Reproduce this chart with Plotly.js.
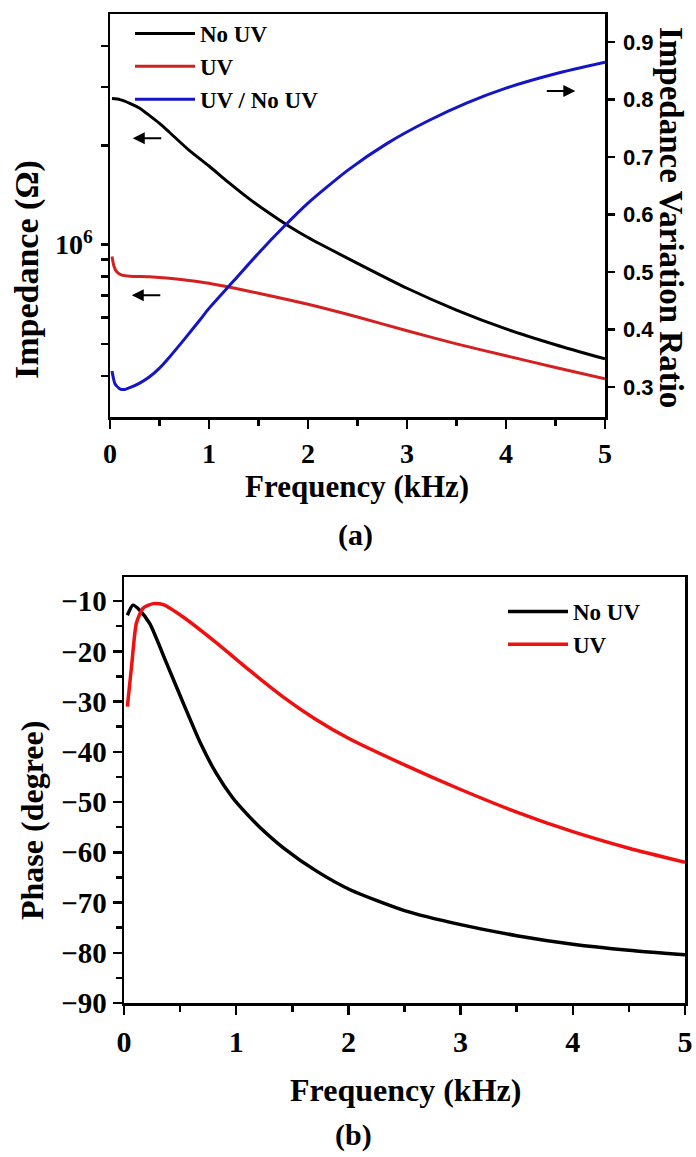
<!DOCTYPE html>
<html>
<head>
<meta charset="utf-8">
<script src="https://cdn.plot.ly/plotly-3.0.1.min.js"></script>
<style>html,body{margin:0;padding:0;background:#fff;}#chart{width:696px;height:1157px;}</style>
</head>
<body>
<div id="chart"></div>
<script>
// ---- Panel (a): impedance magnitude vs frequency ----
const freqNoUV_a = [0.02, 0.1, 0.2, 0.3, 0.4, 0.5, 0.6, 0.8, 1.0, 1.2, 1.4, 1.6, 1.8, 2.0, 2.5, 3.0, 3.5, 4.0, 4.5, 5.0];
const zNoUV = [2.77e6, 2.75e6, 2.68e6, 2.59e6, 2.46e6, 2.33e6, 2.19e6, 1.93e6, 1.73e6, 1.54e6, 1.38e6, 1.25e6, 1.14e6, 1.05e6, 8.77e5, 7.37e5, 6.33e5, 5.55e5, 4.97e5, 4.5e5];

const freqUV_a = [0.02, 0.04, 0.07, 0.12, 0.2, 0.4, 0.6, 0.8, 1.0, 1.25, 1.5, 2.0, 2.5, 3.0, 3.5, 4.0, 4.5, 5.0];
const zUV = [9.2e5, 8.6e5, 8.25e5, 8.08e5, 8.02e5, 7.98e5, 7.9e5, 7.78e5, 7.63e5, 7.38e5, 7.12e5, 6.59e5, 6.03e5, 5.48e5, 5.0e5, 4.6e5, 4.24e5, 3.92e5];

const freqRatio = [0.02, 0.05, 0.1, 0.15, 0.2, 0.3, 0.4, 0.5, 0.6, 0.75, 0.9, 1.0, 1.25, 1.5, 1.75, 2.0, 2.4, 2.8, 3.2, 3.6, 4.0, 4.5, 5.0];
const ratio = [0.328, 0.306, 0.297, 0.296, 0.299, 0.307, 0.318, 0.333, 0.352, 0.383, 0.415, 0.437, 0.485, 0.533, 0.578, 0.620, 0.677, 0.724, 0.762, 0.794, 0.820, 0.845, 0.865];

const zTickVals = [4e5, 5e5, 6e5, 7e5, 8e5, 9e5, 1e6, 2e6, 3e6, 4e6];
const zTickText = ['', '', '', '', '', '', '10<sup>6</sup>', '', '', ''];

// ---- Panel (b): phase vs frequency ----
const freqNoUV_b = [0.03, 0.08, 0.14, 0.23, 0.38, 0.53, 0.68, 0.82, 0.97, 1.1, 1.21, 1.42, 1.72, 2.02, 2.5, 3.0, 3.5, 4.0, 4.5, 5.0];
const phaseNoUV = [-12.8, -10.8, -11.8, -14.5, -22.4, -30.4, -38.2, -44.2, -49.2, -52.5, -55, -59.1, -63.8, -67.5, -71.6, -74.4, -76.6, -78.3, -79.5, -80.4];

const freqUV_b = [0.03, 0.07, 0.11, 0.17, 0.26, 0.35, 0.53, 0.83, 1.12, 1.42, 1.7, 2.0, 2.5, 3.0, 3.5, 4.0, 4.5, 5.0];
const phaseUV = [-31, -22.4, -14.4, -11.4, -10.5, -10.7, -13.2, -18.4, -23.8, -29.1, -33.4, -37.3, -42.6, -47.5, -52, -55.9, -59.2, -62];

const serifB = {family: 'Liberation Serif, Times New Roman, serif', weight: 'bold', color: '#000'};
const sansB = {family: 'Liberation Sans, Arial, sans-serif', weight: 'bold', color: '#000'};
function f(base, size) { return Object.assign({}, base, {size: size}); }

const traces = [
  {x: freqNoUV_a, y: zNoUV, name: 'No UV', type: 'scatter', mode: 'lines',
   line: {color: '#000000', width: 3, shape: 'spline', smoothing: 0.6}, xaxis: 'x', yaxis: 'y', legend: 'legend'},
  {x: freqUV_a, y: zUV, name: 'UV', type: 'scatter', mode: 'lines',
   line: {color: '#d42020', width: 3, shape: 'spline', smoothing: 0.6}, xaxis: 'x', yaxis: 'y', legend: 'legend'},
  {x: freqRatio, y: ratio, name: 'UV / No UV', type: 'scatter', mode: 'lines',
   line: {color: '#1414c8', width: 3, shape: 'spline', smoothing: 0.6}, xaxis: 'x', yaxis: 'y2', legend: 'legend'},
  {x: freqNoUV_b, y: phaseNoUV, name: 'No UV', type: 'scatter', mode: 'lines',
   line: {color: '#000000', width: 3.5, shape: 'spline', smoothing: 0.6}, xaxis: 'x2', yaxis: 'y3', legend: 'legend2'},
  {x: freqUV_b, y: phaseUV, name: 'UV', type: 'scatter', mode: 'lines',
   line: {color: '#f01010', width: 3.5, shape: 'spline', smoothing: 0.6}, xaxis: 'x2', yaxis: 'y3', legend: 'legend2'}
];

const W = 696, H = 1157;
const px = v => v / W;
const py = v => 1 - v / H;

const axisCommon = {showline: true, linecolor: '#000', linewidth: 2.5, ticks: 'outside', tickcolor: '#000',
  tickwidth: 2.5, showgrid: false, zeroline: false};

const layout = {
  width: W, height: H,
  margin: {l: 0, r: 0, t: 0, b: 0},
  paper_bgcolor: '#fff', plot_bgcolor: '#fff',
  showlegend: true,
  xaxis: Object.assign({}, axisCommon, {domain: [px(110), px(605)], anchor: 'y', range: [0, 5], dtick: 1,
    ticklen: 9, mirror: true, tickfont: f(serifB, 28), ticklabelstandoff: 1,
    minor: {dtick: 0.5, ticks: 'outside', ticklen: 6, tickwidth: 2.5, tickcolor: '#000'}}),
  yaxis: Object.assign({}, axisCommon, {domain: [py(417), py(14)], anchor: 'x', type: 'log',
    range: [Math.log10(3e5), Math.log10(5e6)], tickmode: 'array', tickvals: zTickVals, ticktext: zTickText,
    ticklen: 7, tickfont: f(serifB, 28), ticklabelstandoff: 2}),
  yaxis2: Object.assign({}, axisCommon, {overlaying: 'y', side: 'right', anchor: 'x', range: [0.248, 0.949],
    dtick: 0.1, tickformat: '.1f', ticklen: 7, tickfont: f(sansB, 22), ticklabelstandoff: 4}),
  xaxis2: Object.assign({}, axisCommon, {domain: [px(124), px(685)], anchor: 'y3', range: [0, 5], dtick: 1,
    ticklen: 9, mirror: true, tickfont: f(serifB, 30), ticklabelstandoff: 1,
    minor: {dtick: 0.5, ticks: 'outside', ticklen: 6, tickwidth: 2.5, tickcolor: '#000'}}),
  yaxis3: Object.assign({}, axisCommon, {domain: [py(1003), py(577)], anchor: 'x2', range: [-90, -5.2],
    tickvals: [-90, -80, -70, -60, -50, -40, -30, -20, -10], ticklen: 9, mirror: true, tickfont: f(serifB, 29),
    minor: {dtick: 5, ticks: 'outside', ticklen: 6, tickwidth: 2.5, tickcolor: '#000'}}),
  legend: {x: px(130), y: py(12), xanchor: 'left', yanchor: 'top', bgcolor: 'rgba(0,0,0,0)',
    font: f(serifB, 23), itemwidth: 60, tracegroupgap: 0},
  legend2: {x: px(503), y: py(590), xanchor: 'left', yanchor: 'top', bgcolor: 'rgba(0,0,0,0)',
    font: f(serifB, 23), itemwidth: 60},
  annotations: [
    // axis titles
    {xref: 'paper', yref: 'paper', x: px(357), y: py(487), text: 'Frequency (kHz)', showarrow: false,
     font: f(serifB, 31), xanchor: 'center', yanchor: 'middle'},
    {xref: 'paper', yref: 'paper', x: px(27), y: py(270), text: 'Impedance (Ω)', showarrow: false,
     font: f(serifB, 34), textangle: -90, xanchor: 'center', yanchor: 'middle'},
    {xref: 'paper', yref: 'paper', x: px(671), y: py(217), text: 'Impedance Variation Ratio', showarrow: false,
     font: f(serifB, 33), textangle: 90, xanchor: 'center', yanchor: 'middle'},
    {xref: 'paper', yref: 'paper', x: px(355), y: py(535), text: '(a)', showarrow: false,
     font: f(serifB, 30), xanchor: 'center', yanchor: 'middle'},
    {xref: 'paper', yref: 'paper', x: px(405), y: py(1090), text: 'Frequency (kHz)', showarrow: false,
     font: f(serifB, 32), xanchor: 'center', yanchor: 'middle'},
    {xref: 'paper', yref: 'paper', x: px(32), y: py(821), text: 'Phase (degree)', showarrow: false,
     font: f(serifB, 32), textangle: -90, xanchor: 'center', yanchor: 'middle'},
    {xref: 'paper', yref: 'paper', x: px(353), y: py(1135), text: '(b)', showarrow: false,
     font: f(serifB, 30), xanchor: 'center', yanchor: 'middle'},
    // arrows indicating which axis each curve uses
    {xref: 'x', yref: 'y', x: 0.23, y: 6.322, ax: 30, ay: 0, text: '', showarrow: true,
     arrowhead: 2, arrowsize: 1.2, arrowwidth: 2, arrowcolor: '#000'},
    {xref: 'x', yref: 'y', x: 0.22, y: 5.846, ax: 30, ay: 0, text: '', showarrow: true,
     arrowhead: 2, arrowsize: 1.2, arrowwidth: 2, arrowcolor: '#000'},
    {xref: 'x', yref: 'y2', x: 4.70, y: 0.815, ax: -30, ay: 0, text: '', showarrow: true,
     arrowhead: 2, arrowsize: 1.2, arrowwidth: 2, arrowcolor: '#000'}
  ]
};

Plotly.newPlot('chart', traces, layout, {staticPlot: true, displayModeBar: false});
</script>
</body>
</html>
